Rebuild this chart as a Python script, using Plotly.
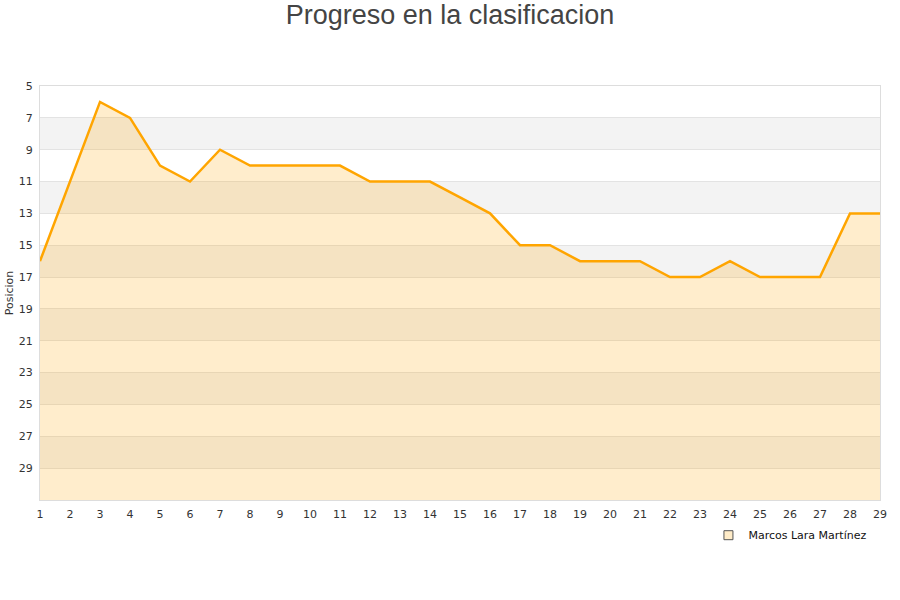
import plotly.graph_objects as go

jornadas = list(range(1, 30))
posicion = [16, 11, 6, 7, 10, 11, 9, 10, 10, 10, 10, 11, 11, 11, 12, 13,
            15, 15, 16, 16, 16, 17, 17, 16, 17, 17, 17, 13, 13]
fondo = [31] * len(jornadas)
jugador = "Marcos Lara Martínez"
titulo = "Progreso en la clasificacion"
bandas = [(7, 9), (11, 13), (15, 17), (19, 21), (23, 25), (27, 29)]

fig = go.Figure()

fig.add_trace(go.Scatter(x=jornadas, y=fondo, mode="lines",
                         line=dict(width=0, color="rgba(0,0,0,0)"),
                         showlegend=False, hoverinfo="skip"))
fig.add_trace(go.Scatter(x=jornadas, y=posicion, mode="lines", name=jugador,
                         fill="tonexty", fillcolor="rgba(255,165,0,0.2)",
                         line=dict(color="#FFA500", width=2.5), showlegend=False))
# entrada de leyenda con cuadrado
fig.add_trace(go.Scatter(x=[None], y=[None], mode="markers", name=jugador,
                         marker=dict(symbol="square", size=9, color="#ffecc8",
                                     line=dict(color="#555555", width=1))))

for y0, y1 in bandas:
    fig.add_shape(type="rect", xref="paper", yref="y", x0=0, x1=1, y0=y0, y1=y1,
                  fillcolor="#f3f3f3", line_width=0, layer="below")

fig.update_layout(
    width=900, height=600,
    paper_bgcolor="white", plot_bgcolor="white",
    title=dict(text=titulo, x=0.5, xanchor="center", y=0.975, yanchor="middle",
               font=dict(family="Liberation Sans, Arial", size=27, color="#444444")),
    font=dict(family="DejaVu Sans", size=11, color="#333333"),
    margin=dict(l=40, r=20, t=86, b=100, autoexpand=False),
    showlegend=True,
    legend=dict(orientation="h", x=0.991, xanchor="right", y=-0.05, yanchor="top",
                font=dict(size=11, color="#111111"), bgcolor="rgba(0,0,0,0)"),
)

fig.update_xaxes(range=[1, 29], dtick=1, tick0=1, showgrid=False, zeroline=False,
                 showline=True, linecolor="#dddddd", mirror=True, automargin=False,
                 ticks="outside", ticklen=4, tickcolor="rgba(0,0,0,0)",
                 tickfont=dict(size=11, color="#333333"))
fig.update_yaxes(range=[31, 5], tickvals=list(range(5, 31, 2)), showgrid=True,
                 gridcolor="#e3e3e3", zeroline=False, showline=True, automargin=False,
                 linecolor="#dddddd", mirror=True, ticks="outside", ticklen=4,
                 tickcolor="rgba(0,0,0,0)",
                 title=dict(text="Posicion", font=dict(size=11, color="#333333"), standoff=2),
                 tickfont=dict(size=11, color="#333333"))

# sin margen del body para que la figura empiece en (0, 0)
fig.write_html("out.html", config={"displayModeBar": False},
               post_script="document.body.style.margin = '0';")
